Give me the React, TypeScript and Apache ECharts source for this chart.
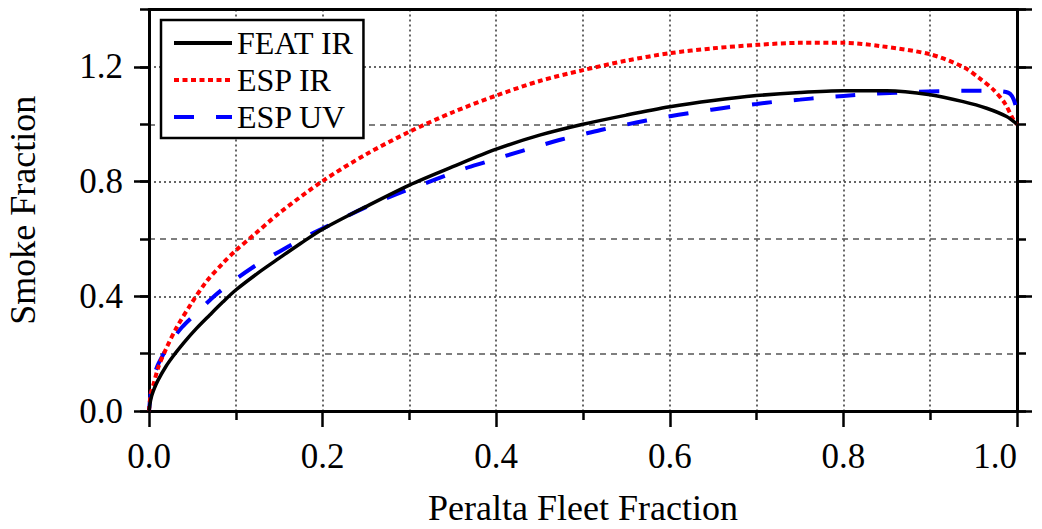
import React, { useEffect, useRef } from "react";
import * as echarts from "echarts";

const seriesNames = ["FEAT IR", "ESP IR", "ESP UV"];

const featIR: [number, number][] = [
  [0, 0], [0.002, 0.04], [0.005, 0.07], [0.01, 0.105], [0.02, 0.158], [0.03, 0.2],
  [0.04, 0.238], [0.055, 0.289], [0.07, 0.335], [0.085, 0.38], [0.1, 0.422],
  [0.125, 0.48], [0.15, 0.533], [0.175, 0.585], [0.2, 0.634], [0.25, 0.713],
  [0.3, 0.788], [0.35, 0.852], [0.4, 0.913], [0.45, 0.962], [0.5, 1.0],
  [0.55, 1.032], [0.6, 1.061], [0.65, 1.083], [0.7, 1.1], [0.75, 1.111],
  [0.8, 1.117], [0.85, 1.117], [0.9, 1.103], [0.938, 1.079], [0.965, 1.056],
  [0.988, 1.027], [1.0, 1.0],
];

const espIR: [number, number][] = [
  [0, 0], [0.002, 0.06], [0.005, 0.091], [0.011, 0.155], [0.02, 0.219],
  [0.032, 0.292], [0.049, 0.376], [0.066, 0.451], [0.085, 0.515], [0.1, 0.56],
  [0.12, 0.612], [0.15, 0.69], [0.2, 0.802], [0.25, 0.895], [0.3, 0.974],
  [0.35, 1.042], [0.4, 1.1], [0.45, 1.151], [0.5, 1.189], [0.55, 1.222],
  [0.6, 1.248], [0.65, 1.265], [0.7, 1.277], [0.75, 1.284], [0.8, 1.284],
  [0.842, 1.273], [0.9, 1.244], [0.938, 1.2], [0.957, 1.16], [0.973, 1.12],
  [0.986, 1.073], [0.996, 1.015], [1.0, 1.0],
];

const espUV: [number, number][] = [
  [0, 0], [0.003, 0.085], [0.006, 0.125], [0.011, 0.166], [0.024, 0.236],
  [0.038, 0.292], [0.057, 0.348], [0.076, 0.403], [0.096, 0.451], [0.118, 0.498],
  [0.139, 0.537], [0.162, 0.576], [0.182, 0.61], [0.205, 0.644], [0.227, 0.678],
  [0.25, 0.711], [0.272, 0.74], [0.296, 0.769], [0.318, 0.794], [0.342, 0.821],
  [0.364, 0.846], [0.389, 0.869], [0.41, 0.889], [0.452, 0.927], [0.475, 0.947],
  [0.5, 0.965], [0.523, 0.982], [0.55, 0.999], [0.573, 1.013], [0.598, 1.027],
  [0.622, 1.039], [0.648, 1.051], [0.672, 1.061], [0.7, 1.071], [0.723, 1.079],
  [0.75, 1.086], [0.775, 1.093], [0.8, 1.099], [0.833, 1.106], [0.86, 1.11],
  [0.884, 1.113], [0.911, 1.115], [0.937, 1.117], [0.964, 1.117], [0.99, 1.11],
  [0.998, 1.07], [1.0, 1.0],
];

const xLabels = ["0.0", "0.2", "0.4", "0.6", "0.8", "1.0"];
const yLabels = ["0.0", "0.4", "0.8", "1.2"];

const FONT = "'Liberation Serif', 'Times New Roman', serif";

export default function App() {
  const ref = useRef<HTMLDivElement>(null);
  useEffect(() => {
    if (!ref.current) return;
    const chart = echarts.init(ref.current, null, { renderer: "svg" });
    const axisLine = { show: true, onZero: false, lineStyle: { color: "#000", width: 3 } };
    const yBase = { type: "value", min: 0, max: 1.4 };
    chart.setOption({
      animation: false,
      backgroundColor: "#fff",
      grid: {
        left: 149,
        right: 25,
        top: 9.6,
        bottom: 118,
        containLabel: false,
        outerBoundsMode: "none",
      },
      legend: {
        orient: "vertical",
        left: 161,
        top: 20,
        data: seriesNames,
        itemWidth: 58,
        itemHeight: 14,
        itemGap: 5,
        padding: [7, 10, 5, 11],
        borderColor: "#000",
        borderWidth: 2.5,
        backgroundColor: "#fff",
        itemStyle: { opacity: 0, borderWidth: 0 },
        lineStyle: { width: 4 },
        textStyle: { fontFamily: FONT, fontSize: 32, color: "#000" },
      },
      xAxis: [
        {
          type: "value",
          position: "bottom",
          min: 0,
          max: 1,
          interval: 0.2,
          axisLine,
          axisTick: { show: true, inside: false, length: 16, lineStyle: { color: "#000", width: 2.5 } },
          minorTick: { show: true, splitNumber: 2, length: 9, lineStyle: { color: "#000", width: 2.5 } },
          axisLabel: {
            show: true,
            margin: 28,
            fontFamily: FONT,
            fontSize: 35,
            color: "#000",
            alignMaxLabel: "right",
            formatter: (v: number) => xLabels[Math.round(v / 0.2)] ?? "",
          },
          splitLine: { show: true, lineStyle: { color: "#333", width: 1.5, type: [2, 3] } },
          minorSplitLine: { show: true, lineStyle: { color: "#333", width: 1.5, type: [2, 3] } },
          name: "Peralta Fleet Fraction",
          nameLocation: "middle",
          nameGap: 79,
          nameMoveOverlap: false,
          nameTextStyle: { fontFamily: FONT, fontSize: 36, color: "#000" },
        },
        {
          type: "value",
          position: "top",
          min: 0,
          max: 1,
          interval: 0.2,
          axisLine,
          axisTick: { show: false },
          axisLabel: { show: false },
          splitLine: { show: false },
        },
      ],
      yAxis: [
        {
          ...yBase,
          position: "left",
          interval: 0.2,
          axisLine,
          axisTick: { show: true, inside: false, length: 9, lineStyle: { color: "#000", width: 2.5 } },
          axisLabel: { show: false },
          splitLine: {
            show: true,
            lineStyle: { color: ["rgba(0,0,0,0)", "#555"], width: 1.5, type: [6, 5] },
          },
        },
        {
          ...yBase,
          position: "left",
          interval: 0.4,
          axisLine,
          axisTick: { show: true, inside: false, length: 15, lineStyle: { color: "#000", width: 2.5 } },
          axisLabel: {
            show: true,
            margin: 26,
            fontFamily: FONT,
            fontSize: 35,
            color: "#000",
            showMaxLabel: false,
            formatter: (v: number) => yLabels[Math.round(v / 0.4)] ?? "",
          },
          splitLine: { show: true, lineStyle: { color: "#333", width: 1.5, type: [2, 3] } },
          name: "Smoke Fraction",
          nameLocation: "middle",
          nameGap: 108,
          nameMoveOverlap: false,
          nameTextStyle: { fontFamily: FONT, fontSize: 36, color: "#000" },
        },
        {
          ...yBase,
          position: "right",
          interval: 0.2,
          axisLine,
          axisTick: { show: true, inside: false, length: 9, lineStyle: { color: "#000", width: 2.5 } },
          axisLabel: { show: false },
          splitLine: { show: false },
        },
        {
          ...yBase,
          position: "right",
          interval: 0.4,
          axisLine,
          axisTick: { show: true, inside: false, length: 15, lineStyle: { color: "#000", width: 2.5 } },
          axisLabel: { show: false },
          splitLine: { show: false },
        },
      ],
      series: [
        {
          name: seriesNames[0],
          type: "line",
          xAxisIndex: 0,
          yAxisIndex: 1,
          data: featIR,
          symbol: "none",
          smooth: 0.3,
          lineStyle: { color: "#000", width: 3.5, type: "solid" },
          itemStyle: { color: "#000" },
          z: 5,
        },
        {
          name: seriesNames[1],
          type: "line",
          xAxisIndex: 0,
          yAxisIndex: 1,
          data: espIR,
          symbol: "none",
          smooth: 0.3,
          lineStyle: { color: "#ff0000", width: 4, type: [5, 3.5] },
          itemStyle: { color: "#ff0000" },
          z: 4,
        },
        {
          name: seriesNames[2],
          type: "line",
          xAxisIndex: 0,
          yAxisIndex: 1,
          data: espUV,
          symbol: "none",
          smooth: 0.3,
          lineStyle: { color: "#0000ff", width: 4, type: [20, 22] },
          itemStyle: { color: "#0000ff" },
          z: 3,
        },
      ],
    });
    return () => chart.dispose();
  }, []);
  return (
    <div
      ref={ref}
      style={{ position: "fixed", left: 0, top: 0, width: 1042, height: 529, background: "#fff" }}
    />
  );
}
